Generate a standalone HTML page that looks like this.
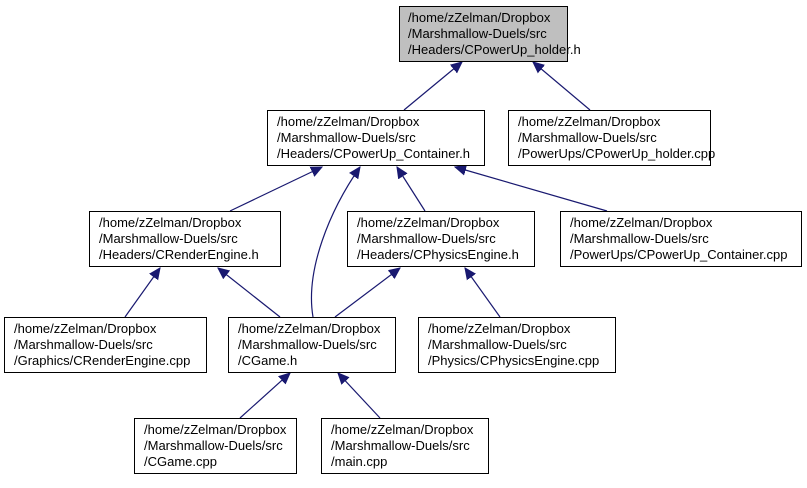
<!DOCTYPE html>
<html><head><meta charset="utf-8"><style>
body{margin:0;background:#fff;}
text{font-family:"Liberation Sans",Helvetica,sans-serif;font-size:13px;fill:#000;}
</style></head><body>
<svg width="807" height="483" xmlns="http://www.w3.org/2000/svg">
<defs><marker id="a" markerWidth="12" markerHeight="12" refX="11" refY="6" orient="auto" markerUnits="userSpaceOnUse">
<path d="M0,1 L11,6 L0,11 Z" fill="#191970" stroke="#191970"/></marker></defs>
<g stroke="#191970" stroke-width="1.2" fill="none" marker-end="url(#a)">
<line x1="404" y1="110" x2="462" y2="62"/>
<line x1="590" y1="110" x2="533" y2="62"/>
<line x1="230" y1="211" x2="322" y2="167"/>
<path d="M313,317 C305,270 330,210 360,167"/>
<line x1="425" y1="211" x2="397" y2="167"/>
<line x1="607" y1="211" x2="455" y2="167"/>
<line x1="125" y1="317" x2="160" y2="268"/>
<line x1="280" y1="317" x2="218" y2="268"/>
<line x1="335" y1="317" x2="400" y2="268"/>
<line x1="500" y1="317" x2="465" y2="268"/>
<line x1="240" y1="418" x2="290" y2="373"/>
<line x1="380" y1="418" x2="338" y2="373"/>
</g>
<g stroke="#000" stroke-width="1">
<rect x="399.5" y="6.5" width="168" height="55" fill="#bfbfbf"/>
<rect x="267.5" y="110.5" width="217" height="55" fill="#fff"/>
<rect x="508.5" y="110.5" width="202" height="55" fill="#fff"/>
<rect x="89.5" y="211.5" width="191" height="55" fill="#fff"/>
<rect x="347.5" y="211.5" width="187" height="55" fill="#fff"/>
<rect x="560.5" y="211.5" width="241" height="55" fill="#fff"/>
<rect x="4.5" y="317.5" width="202" height="55" fill="#fff"/>
<rect x="228.5" y="317.5" width="167" height="55" fill="#fff"/>
<rect x="418.5" y="317.5" width="197" height="55" fill="#fff"/>
<rect x="134.5" y="418.5" width="162" height="55" fill="#fff"/>
<rect x="321.5" y="418.5" width="167" height="55" fill="#fff"/>
</g>
<g>
<text x="408" y="22">/home/zZelman/Dropbox</text><text x="408" y="38">/Marshmallow-Duels/src</text><text x="408" y="54">/Headers/CPowerUp_holder.h</text>
<text x="277" y="126">/home/zZelman/Dropbox</text><text x="277" y="142">/Marshmallow-Duels/src</text><text x="277" y="158">/Headers/CPowerUp_Container.h</text>
<text x="518" y="126">/home/zZelman/Dropbox</text><text x="518" y="142">/Marshmallow-Duels/src</text><text x="518" y="158">/PowerUps/CPowerUp_holder.cpp</text>
<text x="99" y="227">/home/zZelman/Dropbox</text><text x="99" y="243">/Marshmallow-Duels/src</text><text x="99" y="259">/Headers/CRenderEngine.h</text>
<text x="357" y="227">/home/zZelman/Dropbox</text><text x="357" y="243">/Marshmallow-Duels/src</text><text x="357" y="259">/Headers/CPhysicsEngine.h</text>
<text x="570" y="227">/home/zZelman/Dropbox</text><text x="570" y="243">/Marshmallow-Duels/src</text><text x="570" y="259">/PowerUps/CPowerUp_Container.cpp</text>
<text x="14" y="333">/home/zZelman/Dropbox</text><text x="14" y="349">/Marshmallow-Duels/src</text><text x="14" y="365">/Graphics/CRenderEngine.cpp</text>
<text x="238" y="333">/home/zZelman/Dropbox</text><text x="238" y="349">/Marshmallow-Duels/src</text><text x="238" y="365">/CGame.h</text>
<text x="428" y="333">/home/zZelman/Dropbox</text><text x="428" y="349">/Marshmallow-Duels/src</text><text x="428" y="365">/Physics/CPhysicsEngine.cpp</text>
<text x="144" y="434">/home/zZelman/Dropbox</text><text x="144" y="450">/Marshmallow-Duels/src</text><text x="144" y="466">/CGame.cpp</text>
<text x="331" y="434">/home/zZelman/Dropbox</text><text x="331" y="450">/Marshmallow-Duels/src</text><text x="331" y="466">/main.cpp</text>
</g>
</svg>
</body></html>
